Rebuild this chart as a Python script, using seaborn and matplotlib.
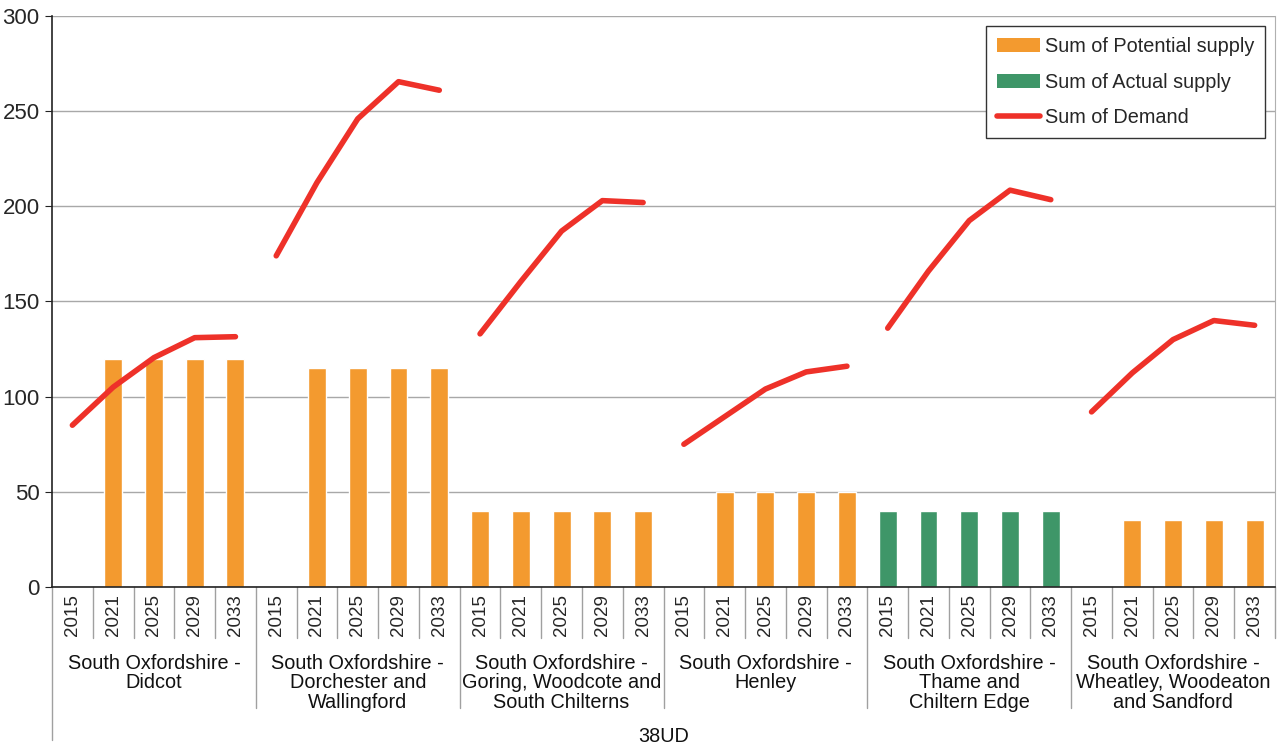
import matplotlib
matplotlib.use("Agg")
import matplotlib.pyplot as plt
import matplotlib.transforms as mtransforms
from matplotlib.patches import Patch
from matplotlib.lines import Line2D
import seaborn as sns
import pandas as pd
import numpy as np

# data
groups = [
    "South Oxfordshire -\nDidcot",
    "South Oxfordshire -\nDorchester and\nWallingford",
    "South Oxfordshire -\nGoring, Woodcote and\nSouth Chilterns",
    "South Oxfordshire -\nHenley",
    "South Oxfordshire -\nThame and\nChiltern Edge",
    "South Oxfordshire -\nWheatley, Woodeaton\nand Sandford",
]
years = ["2015", "2021", "2025", "2029", "2033"]

potential_supply = [
    [np.nan, 120, 120, 120, 120],
    [np.nan, 115, 115, 115, 115],
    [40, 40, 40, 40, 40],
    [np.nan, 50, 50, 50, 50],
    [np.nan, np.nan, np.nan, np.nan, np.nan],
    [np.nan, 35, 35, 35, 35],
]
actual_supply = [
    [np.nan] * 5,
    [np.nan] * 5,
    [np.nan] * 5,
    [np.nan] * 5,
    [40, 40, 40, 40, 40],
    [np.nan] * 5,
]
demand = [
    [85, 105, 120.5, 131, 131.5],
    [174, 212.5, 246, 265.5, 261],
    [133, 160.5, 187, 203, 202],
    [75, 89.5, 104, 113, 116],
    [136, 166, 192.5, 208.5, 203.5],
    [92, 112.5, 130, 140, 137.5],
]

orange = "#F39A2F"
green = "#3E9668"
red = "#EE3129"

rows = []
for g, grp in enumerate(groups):
    for y, yr in enumerate(years):
        pos = g * 5 + y
        rows.append({"pos": pos, "group": g, "year": yr, "series": "Sum of Potential supply",
                     "value": potential_supply[g][y], "demand": demand[g][y]})
        rows.append({"pos": pos, "group": g, "year": yr, "series": "Sum of Actual supply",
                     "value": actual_supply[g][y], "demand": demand[g][y]})
df = pd.DataFrame(rows)
bars = df.dropna(subset=["value"])
line_df = df[df["series"] == "Sum of Potential supply"]

sns.set_style("white")
plt.rcParams["font.family"] = ["Liberation Sans", "DejaVu Sans"]

fig = plt.figure(figsize=(12.79, 7.44), dpi=100)
ax = fig.add_axes([52 / 1279, 1 - 587 / 744, 1223 / 1279, 571 / 744])

sns.barplot(data=bars, x="pos", y="value", hue="series", dodge=False, native_scale=True,
            palette={"Sum of Potential supply": orange, "Sum of Actual supply": green},
            saturation=1, width=0.44, errorbar=None, legend=False, ax=ax, zorder=2)
sns.lineplot(data=line_df, x="pos", y="demand", units="group", estimator=None,
             color=red, lw=4, solid_capstyle="round", ax=ax, zorder=3)

ax.set_xlim(-0.5, 29.5)
ax.set_ylim(0, 300)
ax.set_yticks(range(0, 301, 50))
ax.yaxis.grid(True, color="#A8A8A8", lw=1)
ax.set_axisbelow(True)
ax.tick_params(axis="y", labelsize=16, length=5, color="#222222", left=True, pad=4)
ax.set_xticks(range(30))
ax.set_xticklabels(years * 6, rotation=90, fontsize=13.5)
ax.tick_params(axis="x", length=0, pad=5)
ax.set_xlabel("")
ax.set_ylabel("")

ax.spines["top"].set_visible(False)
ax.spines["right"].set_color("#B0B0B0")
ax.spines["left"].set_color("#222222")
ax.spines["bottom"].set_color("#222222")
ax.spines["left"].set_linewidth(1.2)
ax.spines["bottom"].set_linewidth(1.2)

# category separators below the axis
trans = mtransforms.blended_transform_factory(ax.transData, ax.transAxes)
for i in range(31):
    x = i - 0.5
    if i == 0:
        bottom = -(740 - 587) / 571
    elif i % 5 == 0 and i < 30:
        bottom = -(708 - 587) / 571
    else:
        bottom = -(638 - 587) / 571
    ax.plot([x, x], [0, bottom], transform=trans, color="#A0A0A0", lw=1, clip_on=False)

for g, grp in enumerate(groups):
    ax.text(g * 5 + 2, -(654 - 587) / 571, grp, transform=trans, ha="center", va="top",
            fontsize=14.3, linespacing=1.03, color="#111111")
ax.text(14.5, -(737 - 587) / 571, "38UD", transform=trans, ha="center", va="center",
        fontsize=14.3, color="#111111")

handles = [
    Patch(facecolor=orange, edgecolor="none"),
    Patch(facecolor=green, edgecolor="none"),
    Line2D([0], [0], color=red, lw=4, solid_capstyle="round"),
]
labels = ["Sum of Potential supply", "Sum of Actual supply", "Sum of Demand"]
leg = ax.legend(handles, labels, loc="upper right", bbox_to_anchor=(0.992, 0.983),
                fontsize=14.3, frameon=True, fancybox=False, edgecolor="#333333",
                handlelength=2.15, handletextpad=0.25, labelspacing=0.85,
                borderpad=0.55, borderaxespad=0, framealpha=1)
leg.get_frame().set_linewidth(1)

fig.savefig("out.png", dpi=100)
